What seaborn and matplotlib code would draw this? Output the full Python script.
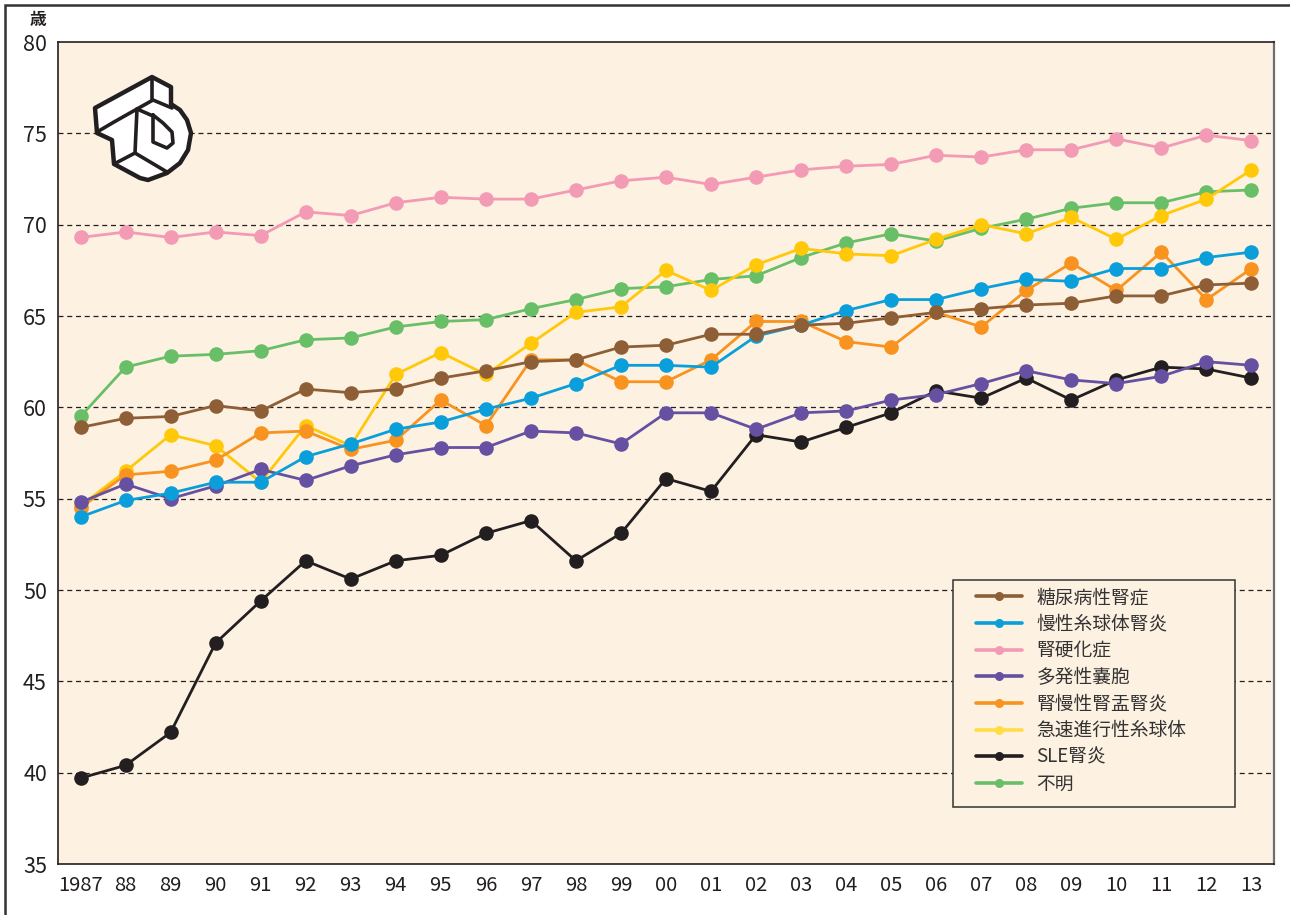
import matplotlib
matplotlib.use("Agg")
import matplotlib.pyplot as plt
from matplotlib.lines import Line2D
from matplotlib.patches import Rectangle, Polygon
import seaborn as sns
import pandas as pd

years = ["1987", "88", "89", "90", "91", "92", "93", "94", "95", "96", "97", "98", "99",
         "00", "01", "02", "03", "04", "05", "06", "07", "08", "09", "10", "11", "12", "13"]

diabetic = [58.9, 59.4, 59.5, 60.1, 59.8, 61.0, 60.8, 61.0, 61.6, 62.0, 62.5, 62.6, 63.3,
            63.4, 64.0, 64.0, 64.5, 64.6, 64.9, 65.2, 65.4, 65.6, 65.7, 66.1, 66.1, 66.7, 66.8]
chronic_gn = [54.0, 54.9, 55.3, 55.9, 55.9, 57.3, 58.0, 58.8, 59.2, 59.9, 60.5, 61.3, 62.3,
              62.3, 62.2, 63.9, 64.5, 65.3, 65.9, 65.9, 66.5, 67.0, 66.9, 67.6, 67.6, 68.2, 68.5]
nephrosclerosis = [69.3, 69.6, 69.3, 69.6, 69.4, 70.7, 70.5, 71.2, 71.5, 71.4, 71.4, 71.9, 72.4,
                   72.6, 72.2, 72.6, 73.0, 73.2, 73.3, 73.8, 73.7, 74.1, 74.1, 74.7, 74.2, 74.9, 74.6]
polycystic = [54.8, 55.8, 55.0, 55.7, 56.6, 56.0, 56.8, 57.4, 57.8, 57.8, 58.7, 58.6, 58.0,
              59.7, 59.7, 58.8, 59.7, 59.8, 60.4, 60.7, 61.3, 62.0, 61.5, 61.3, 61.7, 62.5, 62.3]
pyelonephritis = [54.5, 56.3, 56.5, 57.1, 58.6, 58.7, 57.7, 58.2, 60.4, 59.0, 62.6, 62.6, 61.4,
                  61.4, 62.6, 64.7, 64.7, 63.6, 63.3, 65.2, 64.4, 66.4, 67.9, 66.4, 68.5, 65.9, 67.6]
rpgn = [54.6, 56.5, 58.5, 57.9, 55.9, 59.0, 57.9, 61.8, 63.0, 61.8, 63.5, 65.2, 65.5,
        67.5, 66.4, 67.8, 68.7, 68.4, 68.3, 69.2, 70.0, 69.5, 70.4, 69.2, 70.5, 71.4, 73.0]
sle = [39.7, 40.4, 42.2, 47.1, 49.4, 51.6, 50.6, 51.6, 51.9, 53.1, 53.8, 51.6, 53.1,
       56.1, 55.4, 58.5, 58.1, 58.9, 59.7, 60.9, 60.5, 61.6, 60.4, 61.5, 62.2, 62.1, 61.6]
unknown = [59.5, 62.2, 62.8, 62.9, 63.1, 63.7, 63.8, 64.4, 64.7, 64.8, 65.4, 65.9, 66.5,
           66.6, 67.0, 67.2, 68.2, 69.0, 69.5, 69.1, 69.8, 70.3, 70.9, 71.2, 71.2, 71.8, 71.9]

series_names = ["糖尿病性腎症", "慢性糸球体腎炎", "腎硬化症", "多発性嚢胞",
                "腎慢性腎盂腎炎", "急速進行性糸球体", "SLE腎炎", "不明"]
series_values = [diabetic, chronic_gn, nephrosclerosis, polycystic,
                 pyelonephritis, rpgn, sle, unknown]
colors = ["#8E5E36", "#0A9FDA", "#F39AB4", "#6650A2", "#F7931E", "#FFC90A", "#231F20", "#69BF67"]
legend_colors = ["#8E5E36", "#0A9FDA", "#F39AB4", "#6650A2", "#F7931E", "#FFDD44", "#231F20", "#69BF67"]

rows = []
for name, vals in zip(series_names, series_values):
    for i, v in enumerate(vals):
        rows.append({"pos": i, "year": years[i], "series": name, "value": v})
df = pd.DataFrame(rows)

sns.set_theme(style="white")
plt.rcParams['font.family'] = ['Liberation Sans Narrow', 'Noto Sans CJK JP', 'DejaVu Sans']

W, H = 1290, 915
fig = plt.figure(figsize=(W / 100, H / 100), dpi=100)
ax = fig.add_axes([58 / W, 1 - 864 / H, (1274 - 58) / W, (864 - 42) / H])
ax.set_facecolor("#FDF1E2")

palette = dict(zip(series_names, colors))
draw_order = list(reversed(series_names))
sns.lineplot(data=df, x="pos", y="value", hue="series", hue_order=draw_order,
             palette=palette, marker="o", markersize=10.5, markeredgewidth=0,
             linewidth=2.0, ax=ax, legend=False, zorder=3)

ax.set_xlim(-0.5, len(years) - 0.5)
ax.set_ylim(35, 80)
ax.set_yticks(range(35, 81, 5))
ax.set_xticks(range(len(years)))
ax.set_xticklabels(years)
ax.set_xticks([i - 0.5 for i in range(len(years) + 1)], minor=True)
ax.tick_params(axis="x", which="major", length=0, labelsize=14.5, pad=8, colors="#231F20")
ax.tick_params(axis="x", which="minor", length=6, width=1, color="#231F20", direction="out")
ax.tick_params(axis="y", which="major", length=5, width=1, color="#231F20", direction="out",
               labelsize=15.5, pad=3, labelcolor="#231F20")
ax.set_xlabel("")
ax.set_ylabel("")

for y in range(40, 80, 5):
    ax.axhline(y, color="#231F20", linestyle=(0, (4, 3)), linewidth=0.9, zorder=1)

for side in ["left", "bottom", "top"]:
    ax.spines[side].set_color("#231F20")
    ax.spines[side].set_linewidth(1.2)
ax.spines["right"].set_color("#6E6E6E")
ax.spines["right"].set_linewidth(1.6)


def fx(px):
    return px / W


def fy(py):
    return 1 - py / H


# legend frame
fig.patches.append(Rectangle((fx(953), fy(807)), fx(1235) - fx(953), fy(580) - fy(807),
                             transform=fig.transFigure, facecolor="#FDF1E2",
                             edgecolor="#333333", linewidth=1.1, zorder=4))
handles = [Line2D([0], [0], color=c, marker="o", markersize=6.5, markeredgewidth=0, linewidth=2.6)
           for c in legend_colors]
leg = fig.legend(handles, series_names, loc="upper left", bbox_to_anchor=(fx(976), fy(587)),
                 bbox_transform=fig.transFigure, frameon=False,
                 handlelength=2.45, handletextpad=0.78, borderpad=0, labelspacing=0.30,
                 borderaxespad=0,
                 prop={"family": ["Noto Sans CJK JP", "DejaVu Sans"], "size": 13.5})
leg.set_zorder(5)
for t in leg.get_texts():
    t.set_color("#333333")

fig.text(fx(38), fy(20), "歳", fontsize=12, fontweight="bold", ha="center", va="center",
         family=["Noto Sans CJK JP", "DejaVu Sans"], color="#231F20")

# logo (decorative outline drawing)
sil = [(152, 77), (171, 87), (171, 104), (180, 110), (187, 120), (191, 133), (188, 150),
       (180, 163), (167, 173), (148, 180), (140, 178), (114, 164), (112, 140), (97, 133), (95, 108)]
fig.patches.append(Polygon([(fx(x), fy(y)) for x, y in sil], closed=True, transform=fig.transFigure,
                           facecolor="white", edgecolor="#231F20", linewidth=3.2,
                           joinstyle="round", zorder=6))
logo_lines = [
    [(152, 77), (152, 99)],
    [(97, 132), (114, 122), (137, 109)],
    [(137, 109), (135, 153), (114, 164)],
    [(135, 153), (167, 172)],
    [(137, 109), (153, 100), (172, 108)],
    [(137, 109), (153, 116)],
    [(153, 115), (153, 142), (167, 148), (173, 143), (172, 132), (163, 123), (153, 115)],
]
for seg in logo_lines:
    fig.lines.append(Line2D([fx(x) for x, _ in seg], [fy(y) for _, y in seg],
                            transform=fig.transFigure, color="#231F20", linewidth=2.6,
                            solid_joinstyle="round", solid_capstyle="round", zorder=7))

# outer frame
fig.patches.append(Rectangle((fx(5), -0.01), 1.05, fy(5) + 0.01, transform=fig.transFigure,
                             fill=False, edgecolor="#333333", linewidth=1.8))

fig.savefig("out.png", dpi=100)
